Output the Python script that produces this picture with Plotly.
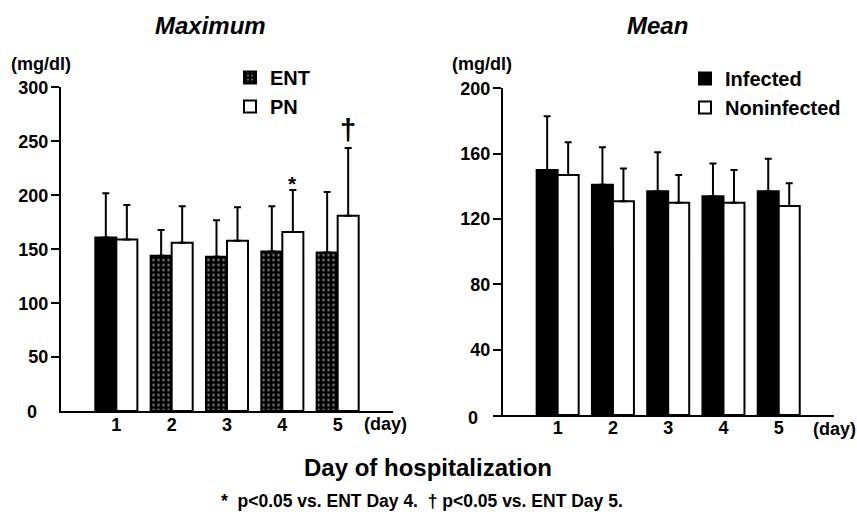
import plotly.graph_objects as go

# Blood glucose by day of hospitalization (mg/dl)
days = [1, 2, 3, 4, 5]
day_labels = ["1", "2", "3", "4", "5"]

# Maximum glucose: ENT vs PN
ent_max_mean = [161, 144, 143, 148, 147]
ent_max_sd = [41, 24, 34, 42, 56]
pn_max_mean = [159, 156, 158, 166, 181]
pn_max_sd = [32, 34, 31, 39, 63]

# Mean glucose: infected vs noninfected
inf_mean = [150, 141, 137, 134, 137]
inf_sd = [33, 23, 24, 20, 20]
non_mean = [147, 131, 130, 130, 128]
non_sd = [20, 20, 17, 20, 14]

left_ticks = [50, 100, 150, 200, 250, 300]
right_ticks = [40, 80, 120, 160, 200]

W, H = 857, 519
FONT = "Liberation Sans, Arial, sans-serif"
BARGAP = 0.24


def px(x):
    return x / W


def py(y):
    return 1 - y / H


def err(sd):
    return dict(type="data", symmetric=False, array=sd, arrayminus=[0] * len(sd),
                color="black", thickness=2, width=3.5)


outline = dict(color="black", width=2)
dots = dict(shape=".", bgcolor="black", fgcolor="white", size=5, solidity=0.2)

fig = go.Figure()

# ---- left panel: Maximum ----
ent_shapes = [""] + ["."] * (len(days) - 1)
fig.add_trace(go.Bar(
    x=days, y=ent_max_mean, name="ENT", showlegend=False,
    marker=dict(color="black", line=outline,
                pattern=dict(shape=ent_shapes, bgcolor="black", fgcolor="white",
                             size=5, solidity=0.2)),
    error_y=err(ent_max_sd), xaxis="x", yaxis="y", offsetgroup="a"))
fig.add_trace(go.Bar(
    x=days, y=pn_max_mean, name="PN", showlegend=False,
    marker=dict(color="white", line=outline),
    error_y=err(pn_max_sd), xaxis="x", yaxis="y", offsetgroup="b"))

# legend entries for the left panel
fig.add_trace(go.Bar(x=[None], y=[None], name="ENT", legend="legend",
                     marker=dict(color="black", line=outline, pattern=dots),
                     xaxis="x", yaxis="y", offsetgroup="a"))
fig.add_trace(go.Bar(x=[None], y=[None], name="PN", legend="legend",
                     marker=dict(color="white", line=outline),
                     xaxis="x", yaxis="y", offsetgroup="b"))

# ---- right panel: Mean ----
fig.add_trace(go.Bar(
    x=days, y=inf_mean, name="Infected", legend="legend2",
    marker=dict(color="black", line=outline),
    error_y=err(inf_sd), xaxis="x2", yaxis="y2", offsetgroup="a"))
fig.add_trace(go.Bar(
    x=days, y=non_mean, name="Noninfected", legend="legend2",
    marker=dict(color="white", line=outline),
    error_y=err(non_sd), xaxis="x2", yaxis="y2", offsetgroup="b"))

tickfont = dict(family=FONT, size=18, color="black", weight="bold")
legfont = dict(family=FONT, size=20, color="black", weight="bold")

fig.update_layout(
    width=W, height=H, margin=dict(l=0, r=0, t=0, b=0),
    paper_bgcolor="white", plot_bgcolor="white",
    barmode="group", bargap=BARGAP, bargroupgap=0,
    font=dict(family=FONT, color="black"),
    xaxis=dict(domain=[px(61), px(393)], range=[0, 6], anchor="y",
               tickvals=days, ticktext=day_labels, ticks="", showgrid=False,
               zeroline=False, showline=True, linecolor="black", linewidth=2,
               tickfont=tickfont, ticklabelstandoff=-4),
    yaxis=dict(domain=[py(409), py(79)], range=[0, 300], anchor="x",
               tickvals=left_ticks, ticks="outside", ticklen=8, tickwidth=2,
               tickcolor="black", showgrid=False, zeroline=False, showline=True,
               linecolor="black", linewidth=2, tickfont=tickfont,
               ticklabelstandoff=-1),
    xaxis2=dict(domain=[px(493), px(834)], range=[-0.17, 6], anchor="y2",
                tickvals=days, ticktext=day_labels, ticks="", showgrid=False,
                zeroline=False, showline=True, linecolor="black", linewidth=2,
                tickfont=tickfont, ticklabelstandoff=-5),
    yaxis2=dict(domain=[py(413), py(80)], range=[0, 200], anchor="free",
                position=px(502),
                tickvals=right_ticks, ticks="outside", ticklen=8, tickwidth=2,
                tickcolor="black", showgrid=False, zeroline=False, showline=True,
                linecolor="black", linewidth=2, tickfont=tickfont,
                ticklabelstandoff=-1),
    legend=dict(x=px(230), y=py(49), xanchor="left", yanchor="top",
                bgcolor="rgba(0,0,0,0)", tracegroupgap=0, itemclick=False,
                font=legfont),
    legend2=dict(x=px(685), y=py(50), xanchor="left", yanchor="top",
                 bgcolor="rgba(0,0,0,0)", tracegroupgap=0, itemclick=False,
                 font=legfont),
)

half = (1 - BARGAP) / 4  # centre offset of each bar within a day group

ann = []


def text(s, x, y, size, xanchor="center"):
    ann.append(dict(text=s, x=px(x), y=py(y), xref="paper", yref="paper",
                    xanchor=xanchor, yanchor="middle", showarrow=False,
                    font=dict(family=FONT, size=size, color="black", weight="bold")))


text("<i>Maximum</i>", 210, 16, 24)
text("<i>Mean</i>", 657, 16, 24)
text("(mg/dl)", 41, 55, 18)
text("(mg/dl)", 482, 55, 18)
text("0", 32, 410, 18)
text("0", 473, 416, 18)
text("(day)", 385, 422, 18)
text("(day)", 834, 427, 18)
text("Day of hospitalization", 428, 466, 24)
text("*  p<0.05 vs. ENT Day 4.  \u2020 p<0.05 vs. ENT Day 5.", 422, 501, 17.5)

# significance markers above the PN error bars
ann.append(dict(text="*", x=days[3] + half, y=pn_max_mean[3] + pn_max_sd[3],
                xref="x", yref="y", yanchor="bottom", showarrow=False, yshift=-7,
                font=dict(family=FONT, size=21, color="black", weight="bold")))
ann.append(dict(text="\u2020", x=days[4] + half, y=pn_max_mean[4] + pn_max_sd[4],
                xref="x", yref="y", yanchor="bottom", showarrow=False, yshift=0,
                font=dict(family=FONT, size=29, color="black", weight="bold")))

fig.update_layout(annotations=ann)

fig.write_html("out.html")
